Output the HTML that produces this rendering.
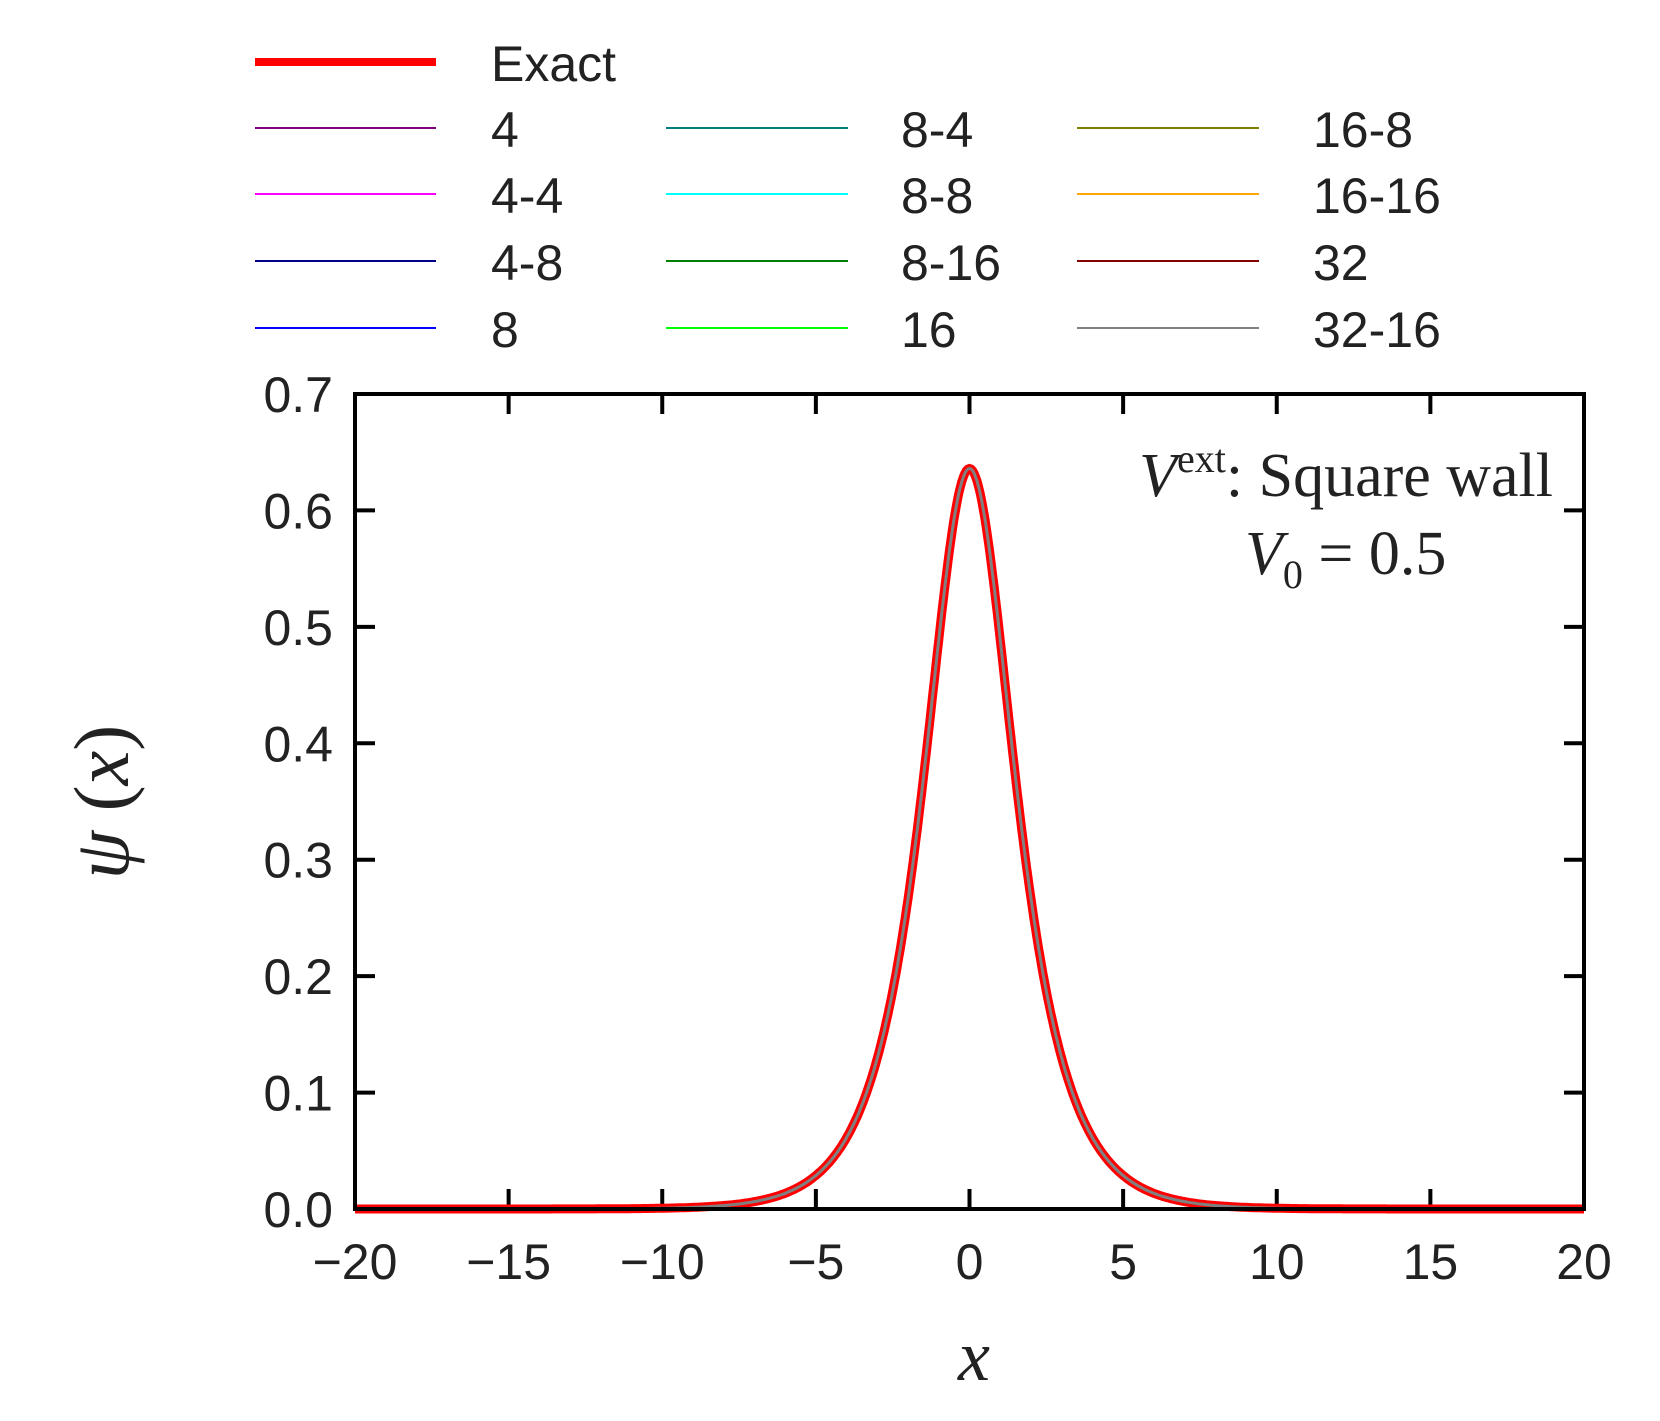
<!DOCTYPE html>
<html><head><meta charset="utf-8"><style>html,body{margin:0;padding:0;background:#fff}</style></head>
<body>
<svg id="s" width="1660" height="1416" viewBox="0 0 1660 1416" xmlns="http://www.w3.org/2000/svg" font-family="Liberation Sans, sans-serif">
<rect width="1660" height="1416" fill="#fff"/>
<g stroke-width="2">
<line x1="255" y1="62" x2="436" y2="62" stroke="#ff0000" stroke-width="8"/>
<line x1="255" y1="128" x2="436" y2="128" stroke="#800080"/>
<line x1="255" y1="194" x2="436" y2="194" stroke="#ff00ff"/>
<line x1="255" y1="261" x2="436" y2="261" stroke="#00008b"/>
<line x1="255" y1="328" x2="436" y2="328" stroke="#0000ff"/>
<line x1="666" y1="128" x2="848" y2="128" stroke="#008080"/>
<line x1="666" y1="194" x2="848" y2="194" stroke="#00ffff"/>
<line x1="666" y1="261" x2="848" y2="261" stroke="#008000"/>
<line x1="666" y1="328" x2="848" y2="328" stroke="#00ff00"/>
<line x1="1077" y1="128" x2="1259" y2="128" stroke="#808000"/>
<line x1="1077" y1="194" x2="1259" y2="194" stroke="#ffa500"/>
<line x1="1077" y1="261" x2="1259" y2="261" stroke="#800000"/>
<line x1="1077" y1="328" x2="1259" y2="328" stroke="#808080"/>
</g>
<g font-size="50" fill="#222">
<text x="491" y="81">Exact</text>
<text x="491" y="147">4</text><text x="491" y="213">4-4</text><text x="491" y="280">4-8</text><text x="491" y="347">8</text>
<text x="901" y="147">8-4</text><text x="901" y="213">8-8</text><text x="901" y="280">8-16</text><text x="901" y="347">16</text>
<text x="1313" y="147">16-8</text><text x="1313" y="213">16-16</text><text x="1313" y="280">32</text><text x="1313" y="347">32-16</text>
</g>
<g id="ticks" stroke="#000" stroke-width="4"></g>
<g id="labels" font-size="50" fill="#222"></g>
<path id="c1" fill="none" stroke="#ff0000" stroke-width="9"/>
<path id="c2" fill="none" stroke="#808080" stroke-width="3"/>
<rect x="355" y="394" width="1229" height="815" fill="none" stroke="#000" stroke-width="4"/>
<g font-family="Liberation Serif, serif" font-size="62" fill="#222">
<text x="1553" y="496" text-anchor="end"><tspan font-style="italic">V</tspan><tspan font-size="40" dy="-24">ext</tspan><tspan dy="24">: Square wall</tspan></text>
<text x="1245" y="574"><tspan font-style="italic">V</tspan><tspan font-size="40" dy="14">0</tspan><tspan dy="-14"> = 0.5</tspan></text>
<text x="974" y="1380" font-style="italic" font-size="72" text-anchor="middle">x</text>
<text transform="translate(128,802) rotate(-90)" font-size="78" text-anchor="middle"><tspan font-style="italic">ψ</tspan> (<tspan font-style="italic">x</tspan>)</text>
</g>
</svg>
<script>
var L=355,R=1584,T=394,B=1209;
function X(v){return L+(v+20)/40*(R-L);}
function Y(v){return B-v/0.7*(B-T);}
var tk=document.getElementById('ticks'),lb=document.getElementById('labels'),h='';
for(var v=-15;v<=15;v+=5){var x=X(v);h+='<line x1="'+x+'" y1="'+B+'" x2="'+x+'" y2="'+(B-20)+'"/><line x1="'+x+'" y1="'+T+'" x2="'+x+'" y2="'+(T+20)+'"/>';}
for(var i=1;i<7;i++){var y=Y(i/10);h+='<line x1="'+L+'" y1="'+y+'" x2="'+(L+20)+'" y2="'+y+'"/><line x1="'+R+'" y1="'+y+'" x2="'+(R-20)+'" y2="'+y+'"/>';}
tk.innerHTML=h;h='';
for(var v=-20;v<=20;v+=5){h+='<text x="'+X(v)+'" y="'+(B+70)+'" text-anchor="middle">'+(v<0?'\u2212'+(-v):v)+'</text>';}
for(var i=0;i<8;i++){h+='<text x="'+(L-22)+'" y="'+(Y(i/10)+18)+'" text-anchor="end">'+(i/10).toFixed(1)+'</text>';}
lb.innerHTML=h;
var d='';for(var x=-20;x<=20.001;x+=0.05){var p=0.636/Math.cosh(x/1.32);d+=(d?'L':'M')+X(x).toFixed(1)+','+Y(p).toFixed(1);}
document.getElementById('c1').setAttribute('d',d);document.getElementById('c2').setAttribute('d',d);
</script>
</body></html>
